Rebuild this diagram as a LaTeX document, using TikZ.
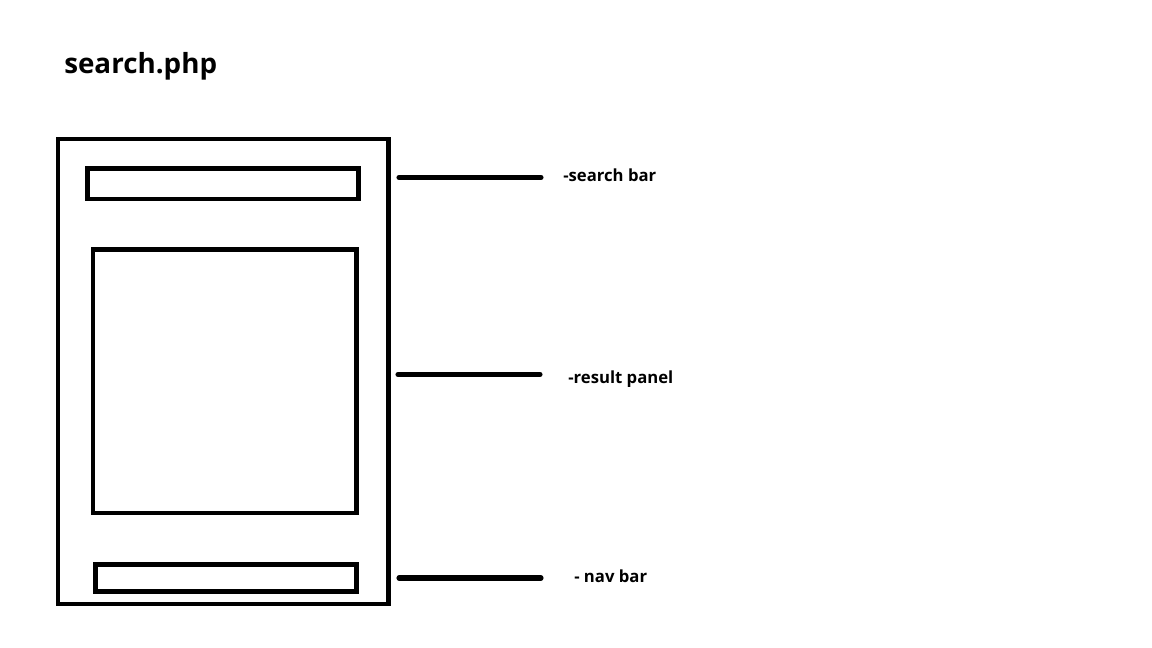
\documentclass[tikz,border=0pt]{standalone}
\usepackage{fontspec}
\setmainfont{Open Sans}
\usetikzlibrary{positioning}

\begin{document}
\begin{tikzpicture}[x=0.02cm,y=-0.02cm,line width=2.6pt]
    \useasboundingbox (0,0) rectangle (1152,648);
    \node[anchor=base west,inner sep=0,font=\fontsize{15.8}{18}\selectfont\bfseries] (title) at (62,74) {search.php};
    % page and its parts (pixel coordinates, y downwards)
    \draw (58,139) rectangle (388.5,604);
    \draw (87.5,168.5) rectangle (358.5,199);  % search bar
    \draw (93,249.5) rectangle (356.5,513);    % result panel
    \draw (95.5,564.5) rectangle (356.5,591.5); % nav bar
    \node[anchor=base west,inner sep=0,font=\fontsize{9.5}{11}\selectfont\bfseries] (lsearch) at (561,182) {-search bar};
    \node[anchor=base west,inner sep=0,font=\fontsize{9.5}{11}\selectfont\bfseries] (lresult) at (566,383) {-result panel};
    \node[anchor=base west,inner sep=0,font=\fontsize{9.5}{11}\selectfont\bfseries] (lnav) at (572,582) {- nav bar};
    \coordinate (s1) at (399,177.5); \coordinate (s2) at (541,177.5);
    \coordinate (r1) at (398,374.5); \coordinate (r2) at (540,374.5);
    \coordinate (n1) at (399,578); \coordinate (n2) at (541,578);
    \draw[line width=2.9pt,line cap=round] (s1) -- (s2);
    \draw[line width=2.9pt,line cap=round] (r1) -- (r2);
    \draw[line width=2.9pt,line cap=round] (n1) -- (n2);
\end{tikzpicture}
\end{document}
